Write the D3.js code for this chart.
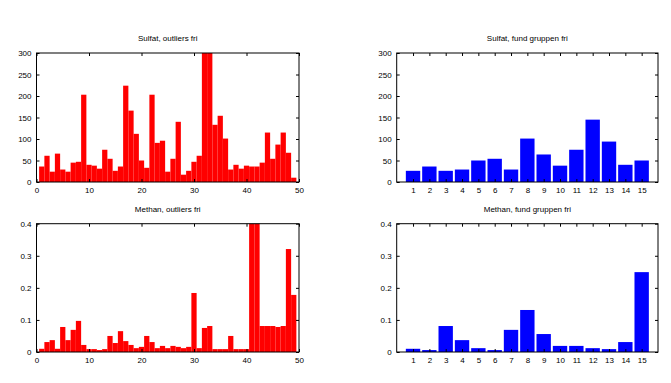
<!DOCTYPE html>
<html><head><meta charset="utf-8">
<script src="https://cdn.jsdelivr.net/npm/d3@7"></script>
<style>
body{margin:0;background:#fff;}
svg text{font-family:"Liberation Sans",Arial,Helvetica,sans-serif;font-size:8px;fill:#000;}
</style></head>
<body><svg id="c" width="671" height="383"></svg>
<script>
// ---- data ----
const sulfatOutliers = [36,61,24,66,29,24,45,47,203,40,38,31,75,54,26,36,224,166,112,50,33,203,91,96,24,54,140,17,26,47,61,340,330,133,154,101,29,40,31,38,36,36,45,115,54,87,115,68,10];
const methanOutliers = [0.010,0.031,0.037,0.010,0.078,0.037,0.069,0.097,0.022,0.009,0.009,0.006,0.009,0.050,0.028,0.065,0.034,0.022,0.012,0.016,0.050,0.031,0.012,0.019,0.012,0.019,0.016,0.012,0.016,0.184,0.012,0.075,0.081,0.009,0.009,0.009,0.050,0.009,0.009,0.009,0.45,0.45,0.081,0.081,0.081,0.078,0.081,0.321,0.178];
const sulfatFund = [26,36,26,29,50,54,29,101,64,38,75,145,94,40,50];
const methanFund = [0.010,0.006,0.081,0.037,0.012,0.006,0.069,0.131,0.056,0.019,0.019,0.012,0.009,0.031,0.249];
const sulfatTicks = [0,50,100,150,200,250,300];
const methanTicks = [0,0.1,0.2,0.3,0.4];
const outlierXTicks = [0,10,20,30,40,50];
const fundXTicks = d3.range(1,16);
const titles = ["Sulfat, outliers fri","Sulfat, fund gruppen fri","Methan, outliers fri","Methan, fund gruppen fri"];

const svg = d3.select("#c");
const panels = [
  {title:titles[0], data:sulfatOutliers, ymax:300, yt:sulfatTicks, xd:[0,50], xt:outlierXTicks, w:1.0, color:"#ff0000", x0:36.5, x1:299, y0:53, y1:182, yfmt:d=>d},
  {title:titles[1], data:sulfatFund, ymax:300, yt:sulfatTicks, xd:[0,16], xt:fundXTicks, w:0.88, color:"#0000ff", x0:396.7, x1:658, y0:53, y1:182, yfmt:d=>d},
  {title:titles[2], data:methanOutliers, ymax:0.4, yt:methanTicks, xd:[0,50], xt:outlierXTicks, w:1.0, color:"#ff0000", x0:36.5, x1:299, y0:223.7, y1:352, yfmt:d=>d===0?"0":d3.format(".1f")(d)},
  {title:titles[3], data:methanFund, ymax:0.4, yt:methanTicks, xd:[0,16], xt:fundXTicks, w:0.88, color:"#0000ff", x0:396.7, x1:658, y0:223.7, y1:352, yfmt:d=>d===0?"0":d3.format(".1f")(d)}
];

panels.forEach((p,i)=>{
  const x = d3.scaleLinear().domain(p.xd).range([p.x0,p.x1]);
  const y = d3.scaleLinear().domain([0,p.ymax]).range([p.y1,p.y0]);
  const g = svg.append("g");
  const cid = "clip"+i;
  svg.append("clipPath").attr("id",cid).append("rect")
    .attr("x",p.x0).attr("y",p.y0).attr("width",p.x1-p.x0).attr("height",p.y1-p.y0);
  g.append("g").attr("clip-path","url(#"+cid+")")
   .selectAll("rect").data(p.data).join("rect")
    .attr("x",(d,k)=>x(k+1-p.w/2))
    .attr("width",(d,k)=>x(k+1+p.w/2)-x(k+1-p.w/2))
    .attr("y",d=>y(d))
    .attr("height",d=>y(0)-y(d))
    .attr("fill",p.color);
  // axes
  const tl = 3;
  const ax = g.append("g").attr("transform",`translate(0,${p.y1})`)
    .call(d3.axisBottom(x).tickValues(p.xt).tickSize(-tl).tickPadding(5).tickFormat(d=>d));
  const axT = g.append("g").attr("transform",`translate(0,${p.y0})`)
    .call(d3.axisTop(x).tickValues(p.xt).tickSize(-tl).tickFormat(""));
  const ay = g.append("g").attr("transform",`translate(${p.x0},0)`)
    .call(d3.axisLeft(y).tickValues(p.yt).tickSize(-tl).tickPadding(5).tickFormat(p.yfmt));
  const ayR = g.append("g").attr("transform",`translate(${p.x1},0)`)
    .call(d3.axisRight(y).tickValues(p.yt).tickSize(-tl).tickFormat(""));
  [ax,axT,ay,ayR].forEach(a=>{
    a.select(".domain").remove();
    a.selectAll("line").attr("stroke","#000");
    a.selectAll("text").attr("font-size",null).attr("font-family",null).attr("fill","#000");
    a.attr("font-size",null).attr("font-family",null);
  });
  g.append("rect").attr("x",p.x0).attr("y",p.y0).attr("width",p.x1-p.x0).attr("height",p.y1-p.y0)
    .attr("fill","none").attr("stroke","#000").attr("stroke-width",1);
  g.append("text").attr("x",(p.x0+p.x1)/2).attr("y",p.y0-12).attr("text-anchor","middle").text(p.title);
});
</script></body></html>
